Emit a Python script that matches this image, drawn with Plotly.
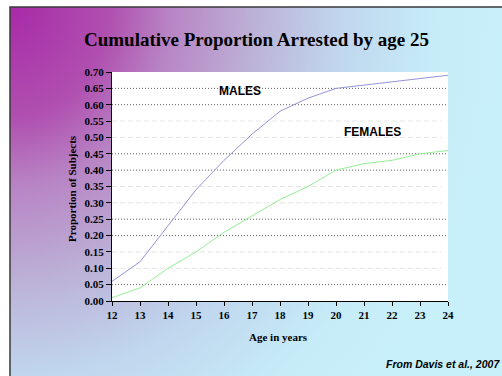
import base64
import plotly.graph_objects as go

# ---- data -------------------------------------------------------------
ages = [12, 13, 14, 15, 16, 17, 18, 19, 20, 21, 22, 23, 24]
males = [0.06, 0.12, 0.23, 0.34, 0.43, 0.51, 0.58, 0.62, 0.65, 0.66, 0.67, 0.68, 0.69]
females = [0.01, 0.04, 0.10, 0.15, 0.21, 0.26, 0.31, 0.35, 0.40, 0.42, 0.43, 0.45, 0.46]
y_ticks = [round(i * 0.05, 2) for i in range(15)]
dark_grid = [0.05, 0.20, 0.25, 0.40, 0.45, 0.60, 0.65]
light_grid = [0.10, 0.15, 0.30, 0.35, 0.50, 0.55]

# ---- page geometry ----------------------------------------------------
W_PAGE, H_PAGE = 502, 376
L, R, T, B = 112, 54, 72, 75
PW, PH = W_PAGE - L - R, H_PAGE - T - B


def px(xp):
    return (xp - L) / PW


def py(yp):
    return (T + PH - yp) / PH


SERIF = "Times New Roman, Liberation Serif, serif"
SANS = "Arial, Liberation Sans, sans-serif"

# slide background: purple corner fading to pale cyan
svg = (
    '<svg xmlns="http://www.w3.org/2000/svg" width="492" height="369" '
    'viewBox="0 0 492 369" preserveAspectRatio="none">'
    '<defs><radialGradient id="g" gradientUnits="userSpaceOnUse" cx="0" cy="0" r="500" '
    'gradientTransform="scale(1,1.12)">'
    '<stop offset="0" stop-color="#a82aa8"/>'
    '<stop offset="0.2" stop-color="#b050b0"/>'
    '<stop offset="0.32" stop-color="#b884c4"/>'
    '<stop offset="0.5" stop-color="#bcb4d8"/>'
    '<stop offset="0.66" stop-color="#c0d6ee"/>'
    '<stop offset="0.85" stop-color="#c6ecf8"/>'
    '<stop offset="1" stop-color="#c8f0fa"/>'
    '</radialGradient></defs>'
    '<rect x="0" y="0" width="492" height="369" fill="url(#g)"/></svg>'
)
bg_src = "data:image/svg+xml;base64," + base64.b64encode(svg.encode()).decode()

fig = go.Figure()
fig.add_trace(go.Scatter(x=ages, y=males, mode="lines", name="Males",
                         line=dict(color="#9494d8", width=1), showlegend=False))
fig.add_trace(go.Scatter(x=ages, y=females, mode="lines", name="Females",
                         line=dict(color="#94f094", width=1), showlegend=False))

shapes = [
    # white plotting area over the gradient
    dict(type="rect", xref="x domain", yref="y domain", x0=0, x1=1, y0=0, y1=1,
         fillcolor="white", line=dict(width=0), layer="below"),
    # slide frame
    dict(type="rect", xref="paper", yref="paper", x0=px(10), x1=px(506),
         y0=py(380), y1=py(7), line=dict(color="#3a3a3a", width=1.5), layer="above"),
]
for v in light_grid:
    shapes.append(dict(type="line", xref="x domain", yref="y", x0=0, x1=0.98, y0=v, y1=v,
                       line=dict(color="#e4e4e4", width=1, dash="5px,3px"), layer="below"))
for v in dark_grid:
    shapes.append(dict(type="line", xref="x domain", yref="y", x0=0, x1=1, y0=v, y1=v,
                       line=dict(color="#606060", width=1, dash="1px,2px"), layer="below"))

annotations = [
    dict(text="Cumulative Proportion Arrested by age 25", xref="paper", yref="paper",
         x=px(256), y=py(39), showarrow=False, xanchor="center", yanchor="middle",
         font=dict(family=SERIF, size=19, color="black", weight="bold")),
    dict(text="Proportion of Subjects", xref="paper", yref="paper",
         x=px(72), y=py(189), showarrow=False, textangle=-90,
         xanchor="center", yanchor="middle",
         font=dict(family=SERIF, size=11, color="black", weight="bold")),
    dict(text="Age in years", xref="paper", yref="paper",
         x=px(278), y=py(337), showarrow=False, xanchor="center", yanchor="middle",
         font=dict(family=SERIF, size=11, color="black", weight="bold")),
    dict(text="<i>From Davis et al., 2007</i>", xref="paper", yref="paper",
         x=px(384), y=py(364), showarrow=False, xanchor="left", yanchor="middle",
         font=dict(family=SANS, size=10.5, color="black", weight="bold")),
    dict(text="MALES", xref="paper", yref="paper",
         x=px(240), y=py(91), showarrow=False, xanchor="center", yanchor="middle",
         font=dict(family=SANS, size=12, color="black", weight="bold")),
    dict(text="FEMALES", xref="paper", yref="paper",
         x=px(372), y=py(132), showarrow=False, xanchor="center", yanchor="middle",
         font=dict(family=SANS, size=12, color="black", weight="bold")),
]

fig.update_layout(
    width=W_PAGE, height=H_PAGE,
    margin=dict(l=L, r=R, t=T, b=B, pad=0),
    paper_bgcolor="white", plot_bgcolor="white",
    images=[dict(source=bg_src, xref="paper", yref="paper", x=px(10), y=py(7),
                 sizex=(W_PAGE - 10) / PW, sizey=(H_PAGE - 7) / PH,
                 xanchor="left", yanchor="top", sizing="stretch", layer="below")],
    shapes=shapes,
    annotations=annotations,
    xaxis=dict(range=[12, 24], tickmode="array", tickvals=ages, ticks="outside",
               ticklen=4, tickcolor="black", showline=True, linecolor="black",
               linewidth=1, showgrid=False, zeroline=False,
               tickfont=dict(family=SERIF, size=11, color="black", weight="bold")),
    yaxis=dict(range=[0, 0.70], tickmode="array", tickvals=y_ticks, tickformat=".2f",
               ticks="outside", ticklen=5, tickcolor="black", showline=True,
               linecolor="black", linewidth=1, showgrid=False, zeroline=False,
               tickfont=dict(family=SERIF, size=11, color="black", weight="bold")),
)

fig.write_html("out.html")
